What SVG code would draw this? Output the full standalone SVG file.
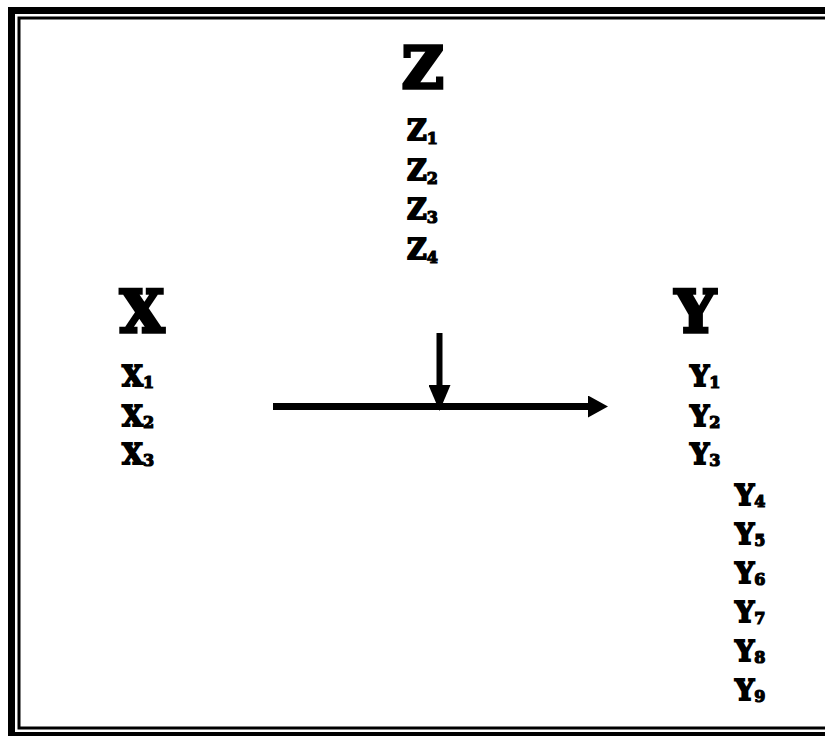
<svg xmlns="http://www.w3.org/2000/svg" width="825" height="736" viewBox="0 0 825 736">
<defs>
<style>
.big{font-family:"DejaVu Serif","Liberation Serif",serif;font-weight:bold;font-size:57px;fill:#000;stroke:#000;stroke-width:3.5;stroke-linejoin:miter}
.lbl{font-family:"DejaVu Serif","Liberation Serif",serif;font-weight:bold;font-size:27px;fill:#000;stroke:#000;stroke-width:1.8}
.sub{font-size:16px;stroke-width:1.2}
.ln{stroke:#000;fill:none}
</style>
<marker id="ah" markerWidth="20" markerHeight="22" refX="0" refY="11" orient="auto" markerUnits="userSpaceOnUse">
<path d="M0,0 L20,11 L0,22 Z" fill="#000"/>
</marker>
<marker id="ahv" markerWidth="26" markerHeight="22" refX="0" refY="11" orient="auto" markerUnits="userSpaceOnUse">
<path d="M0,0 L26,11 L0,22 Z" fill="#000"/>
</marker>
</defs>
<rect x="0" y="0" width="825" height="736" fill="#fff"/>
<g id="frame">
<rect x="11.5" y="10.5" width="830" height="725" class="ln" stroke-width="7"/>
<rect x="19" y="18" width="820" height="710" class="ln" stroke-width="3"/>
</g>
<g id="node-Z">
<text class="big" x="402" y="88">Z</text>
<text class="lbl" x="407" y="140">Z<tspan class="sub" dy="4">1</tspan></text>
<text class="lbl" x="407" y="180">Z<tspan class="sub" dy="4">2</tspan></text>
<text class="lbl" x="407" y="219">Z<tspan class="sub" dy="4">3</tspan></text>
<text class="lbl" x="407" y="259">Z<tspan class="sub" dy="4">4</tspan></text>
</g>
<g id="node-X">
<text class="big" x="120" y="332">X</text>
<text class="lbl" x="122" y="386">X<tspan class="sub" dy="2">1</tspan></text>
<text class="lbl" x="122" y="426">X<tspan class="sub" dy="2">2</tspan></text>
<text class="lbl" x="122" y="464">X<tspan class="sub" dy="2">3</tspan></text>
</g>
<g id="node-Y">
<text class="big" x="675" y="332">Y</text>
<text class="lbl" x="690" y="386">Y<tspan class="sub" dy="2">1</tspan></text>
<text class="lbl" x="690" y="426">Y<tspan class="sub" dy="2">2</tspan></text>
<text class="lbl" x="690" y="464">Y<tspan class="sub" dy="2">3</tspan></text>
<text class="lbl" x="735" y="505">Y<tspan class="sub" dy="2">4</tspan></text>
<text class="lbl" x="735" y="544">Y<tspan class="sub" dy="2">5</tspan></text>
<text class="lbl" x="735" y="583">Y<tspan class="sub" dy="2">6</tspan></text>
<text class="lbl" x="735" y="622">Y<tspan class="sub" dy="2">7</tspan></text>
<text class="lbl" x="735" y="661">Y<tspan class="sub" dy="2">8</tspan></text>
<text class="lbl" x="735" y="700">Y<tspan class="sub" dy="2">9</tspan></text>
</g>
<g id="connectors">
<line x1="273" y1="406.5" x2="588" y2="406.5" class="ln" stroke-width="7" marker-end="url(#ah)"/>
<line x1="439.5" y1="333" x2="439.5" y2="385" class="ln" stroke-width="6" marker-end="url(#ahv)"/>
</g>
</svg>
